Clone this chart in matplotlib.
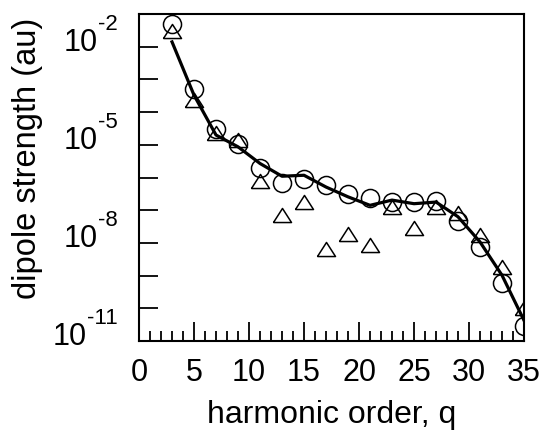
import numpy as np
import matplotlib
matplotlib.use("Agg")
import matplotlib.pyplot as plt
from matplotlib.ticker import FixedLocator, MultipleLocator, NullLocator, NullFormatter
from matplotlib.transforms import blended_transform_factory, offset_copy

plt.rcParams['font.family'] = ['Liberation Sans', 'DejaVu Sans']

# harmonic orders
q = [3, 5, 7, 9, 11, 13, 15, 17, 19, 21, 23, 25, 27, 29, 31, 33, 35]
# log10 of dipole strength
circles_log = [-1.31, -3.30, -4.53, -4.98, -5.72, -6.18, -6.05, -6.24, -6.49,
               -6.64, -6.74, -6.76, -6.72, -7.33, -8.14, -9.22, -10.55]
triangles_log = [-1.53, -3.63, -4.64, -4.85, -6.11, -7.15, -6.74, -8.18, -7.73,
                 -8.05, -6.89, -7.54, -6.91, -7.09, -7.75, -8.74, -10.0]
line_log = [-1.85, -3.48, -4.70, -5.06, -5.57, -5.96, -5.93, -6.29, -6.59,
            -6.85, -6.69, -6.80, -6.75, -7.20, -7.97, -8.99, -10.37]

circles = [10 ** v for v in circles_log]
triangles = [10 ** v for v in triangles_log]
line = [10 ** v for v in line_log]

ytick_exps = [-11, -10, -9, -8, -7, -6, -5, -4, -3, -2]
ylabel_exps = [-11, -8, -5, -2]
xticks_major = [0, 5, 10, 15, 20, 25, 30, 35]

fig = plt.figure(figsize=(5.42, 4.41), dpi=100)
ax = fig.add_axes([0.2565, 0.2268, 0.9668 - 0.2565, 0.968 - 0.2268])

ax.plot(q, line, color='black', lw=2.3, zorder=2)
ax.plot(q, circles, linestyle='none', marker='o', markersize=13,
        markerfacecolor='none', markeredgecolor='black', markeredgewidth=1.1, zorder=3)
tri = [(-1, -0.78), (1, -0.78), (0, 0.78), (-1, -0.78)]
ax.plot(q, triangles, linestyle='none', marker=tri, markersize=13,
        markerfacecolor='none', markeredgecolor='black', markeredgewidth=1.1, zorder=3)

ax.set_yscale('log')
ax.set_ylim(1e-11, 1e-1)
ax.set_xlim(0, 35)

ax.yaxis.set_major_locator(FixedLocator([10.0 ** e for e in ytick_exps]))
ax.yaxis.set_minor_locator(NullLocator())
ax.yaxis.set_major_formatter(NullFormatter())
ax.xaxis.set_major_locator(FixedLocator(xticks_major))
ax.xaxis.set_minor_locator(MultipleLocator(1))
ax.set_xticklabels([str(v) for v in xticks_major])

ax.tick_params(axis='both', which='both', direction='in', top=False, right=False,
               width=1.3, colors='black')
ax.tick_params(axis='y', which='major', length=13.5)
ax.tick_params(axis='x', which='major', length=14, labelsize=22, pad=12)
ax.tick_params(axis='x', which='minor', length=7.2)

for s in ax.spines.values():
    s.set_linewidth(1.5)

# y tick labels as "10" with a raised exponent (hyphen as in original)
trans = blended_transform_factory(ax.transAxes, ax.transData)
fig.canvas.draw()
renderer = fig.canvas.get_renderer()
for e in ylabel_exps:
    yv = 10.0 ** e
    sup = ax.text(0, yv, '-%d' % (-e), fontsize=16, ha='right', va='baseline',
                  transform=offset_copy(trans, fig=fig, x=-21, y=-4.5 + 21.5, units='dots'),
                  clip_on=False)
    w = sup.get_window_extent(renderer).width
    ax.text(0, yv, '10', fontsize=22, ha='right', va='baseline',
            transform=offset_copy(trans, fig=fig, x=-21 - w - 1, y=-4.5, units='dots'),
            clip_on=False)

ax.set_xlabel('harmonic order, q', fontsize=23, labelpad=9)
ax.set_ylabel('dipole strength (au)', fontsize=23.5)
ax.yaxis.set_label_coords(-0.25, 0.558)

fig.savefig('out.png', dpi=100)
